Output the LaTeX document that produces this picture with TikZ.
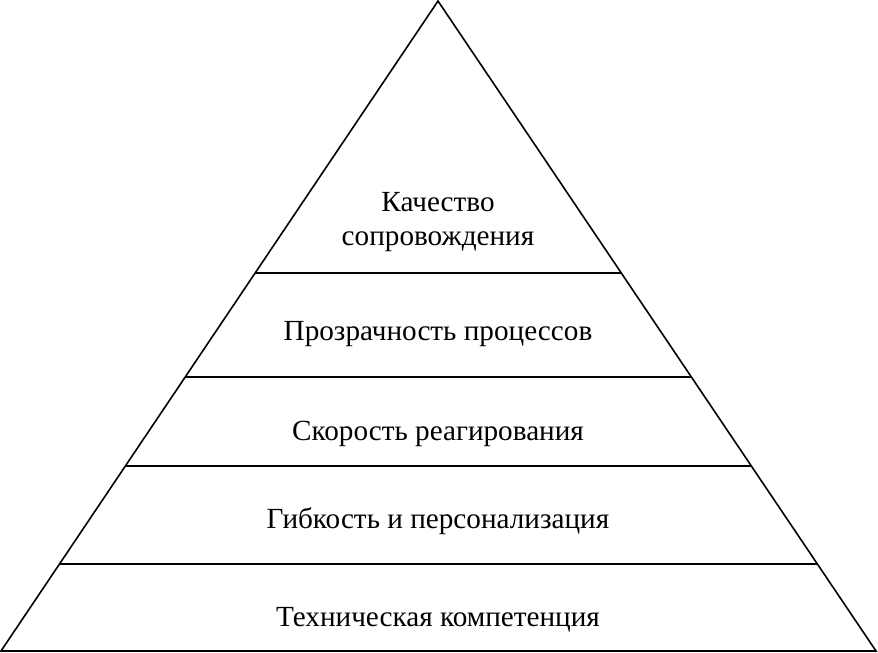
\documentclass[tikz,border=0pt]{standalone}
\usepackage{fontspec}
\setmainfont{Liberation Serif}
\begin{document}
\begin{tikzpicture}[x=1pt,y=-1pt,
  edge/.style={draw=black,line width=1.6pt,line join=miter},
  tier/.style={draw=black,line width=1.6pt},
  lbl/.style={font=\fontsize{29.2}{34}\selectfont,align=center,anchor=center}]
\useasboundingbox (0,0) rectangle (878,653);
\coordinate (top) at (438,1);
\coordinate (bl) at (1,651);
\coordinate (br) at (876,651);
\draw[edge] (top) -- (bl) -- (br) -- cycle;
\foreach \yy/\nm in {273/a,377/b,466/c,564/d}{
  \coordinate (l\nm) at ({438-(437/650)*(\yy-1)},\yy);
  \coordinate (r\nm) at ({438+(438/650)*(\yy-1)},\yy);
  \draw[tier] (l\nm) -- (r\nm);
}
\node[lbl] (t1) at (438,222) {Качество\\сопровождения};
\node[lbl] (t2) at (438,334) {Прозрачность процессов};
\node[lbl] (t3) at (438,434) {Скорость реагирования};
\node[lbl] (t4) at (438,521) {Гибкость и персонализация};
\node[lbl] (t5) at (438,620) {Техническая компетенция};
\end{tikzpicture}
\end{document}
